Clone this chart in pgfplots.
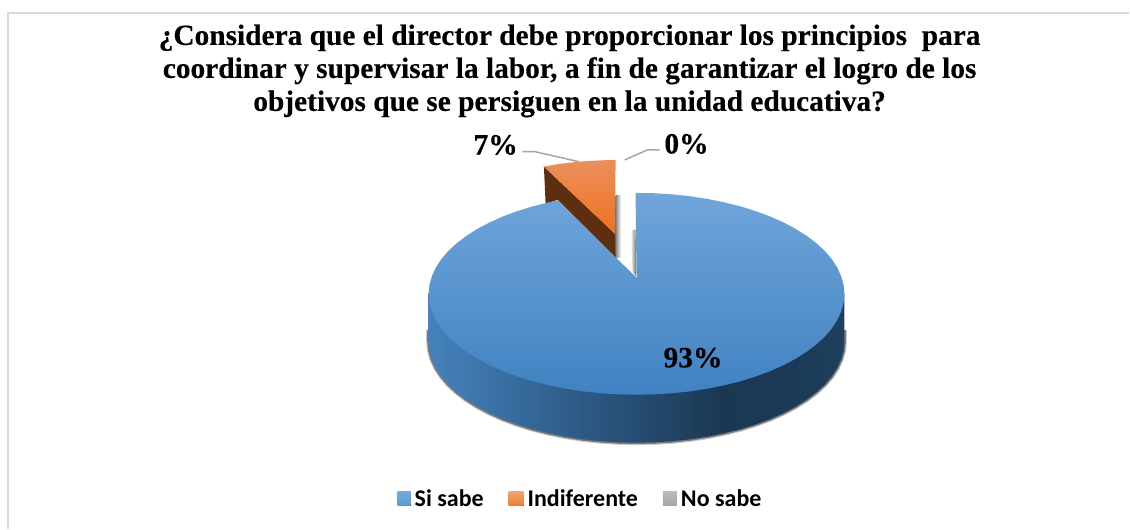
\documentclass[border=0pt]{standalone}
\usepackage{pgfplots}
\pgfplotsset{compat=1.18}
\usepackage{fontspec}
\setmainfont[BoldFeatures={FakeBold=0.25}]{Liberation Serif}
\newfontfamily\legfont{Carlito}
\definecolor{siBlue}{RGB}{91,155,213}
\definecolor{blueTop}{RGB}{112,165,218}
\definecolor{blueBot}{RGB}{64,130,194}
\definecolor{orTop}{RGB}{236,142,92}
\definecolor{orBot}{RGB}{238,114,32}
\definecolor{brownWall}{RGB}{94,46,16}
\definecolor{indOrange}{RGB}{237,125,49}
\definecolor{noGray}{RGB}{165,165,165}
\pgfdeclarehorizontalshading{sideblue}{100bp}{
  rgb(0bp)=(0.27,0.51,0.74);
  rgb(25bp)=(0.27,0.51,0.74);
  rgb(31bp)=(0.24,0.46,0.67);
  rgb(40bp)=(0.19,0.38,0.56);
  rgb(50bp)=(0.15,0.30,0.45);
  rgb(60bp)=(0.105,0.22,0.32);
  rgb(70bp)=(0.11,0.23,0.34);
  rgb(75bp)=(0.12,0.25,0.37);
  rgb(100bp)=(0.12,0.25,0.37)}
\begin{document}
\begin{tikzpicture}
\begin{axis}[
  scale only axis, width=1130pt, height=529pt,
  xmin=0, xmax=1130, ymin=0, ymax=529, y dir=reverse,
  hide axis, clip=false,
  legend columns=3,
  legend cell align=left,
  legend style={at={(axis cs:398,499)}, anchor=west, draw=none, fill=none, inner sep=0pt, outer sep=0pt,
    font=\legfont\bfseries\fontsize{24}{28}\selectfont,
    /tikz/every even column/.append style={column sep=23pt},
    /tikz/every odd column/.append style={column sep=2pt}},
]
% page background and chart frame
\addplot[draw=none, fill=white, forget plot] coordinates {(0,0)(1130,0)(1130,529)(0,529)} -- cycle;
\addplot[draw=black!15, line width=1.6pt, forget plot] coordinates {(8,529)(8,13)(1130,13)};

% soft shadow under the pie
\addplot[draw=black, opacity=.2, line width=5pt, forget plot] coordinates {(845,330)(845,342)(844.2,350.8)(841.8,359.5)(837.9,368.1)(832.5,376.5)(825.5,384.7)(817.1,392.5)(807.4,399.9)(796.3,406.9)(784.1,413.4)(770.7,419.4)(756.3,424.7)(741,429.5)(724.9,433.5)(708.1,436.9)(690.8,439.6)(673.1,441.5)(655.1,442.6)(637,443)(618.9,442.6)(600.9,441.5)(583.2,439.6)(565.9,436.9)(549.1,433.5)(533,429.5)(517.7,424.7)(503.3,419.4)(489.9,413.4)(477.7,406.9)(466.6,399.9)(456.9,392.5)(448.5,384.7)(441.5,376.5)(436.1,368.1)(432.2,359.5)(429.8,350.8)(429,342)(429,330)};
\addplot[draw=black, opacity=.4, line width=3pt, forget plot] coordinates {(845,330)(845,342)(844.2,350.8)(841.8,359.5)(837.9,368.1)(832.5,376.5)(825.5,384.7)(817.1,392.5)(807.4,399.9)(796.3,406.9)(784.1,413.4)(770.7,419.4)(756.3,424.7)(741,429.5)(724.9,433.5)(708.1,436.9)(690.8,439.6)(673.1,441.5)(655.1,442.6)(637,443)(618.9,442.6)(600.9,441.5)(583.2,439.6)(565.9,436.9)(549.1,433.5)(533,429.5)(517.7,424.7)(503.3,419.4)(489.9,413.4)(477.7,406.9)(466.6,399.9)(456.9,392.5)(448.5,384.7)(441.5,376.5)(436.1,368.1)(432.2,359.5)(429.8,350.8)(429,342)(429,330)};

% 93% slice: side wall
\addplot[draw=none, shading=sideblue, forget plot] coordinates {(845,294)(845,342)(844.2,350.8)(841.8,359.5)(837.9,368.1)(832.5,376.5)(825.5,384.7)(817.1,392.5)(807.4,399.9)(796.3,406.9)(784.1,413.4)(770.7,419.4)(756.3,424.7)(741,429.5)(724.9,433.5)(708.1,436.9)(690.8,439.6)(673.1,441.5)(655.1,442.6)(637,443)(618.9,442.6)(600.9,441.5)(583.2,439.6)(565.9,436.9)(549.1,433.5)(533,429.5)(517.7,424.7)(503.3,419.4)(489.9,413.4)(477.7,406.9)(466.6,399.9)(456.9,392.5)(448.5,384.7)(441.5,376.5)(436.1,368.1)(432.2,359.5)(429.8,350.8)(429,342)(429,294)} -- cycle;

% 7% slice: walls, shadow, top face
\addplot[draw=none, left color=black!50, right color=white, forget plot] coordinates {(616,196)(621.5,196)(621.5,258)(616,258)} -- cycle;
\addplot[draw=none, fill=brownWall, forget plot] coordinates {(544.3,166.7)(615.5,234)(616,258)(558,200)(546,204)} -- cycle;
\addplot[draw=none, top color=orTop, bottom color=orBot, forget plot] coordinates {(544.3,166.7)(560,164)(580,161.7)(600,160.5)(616,160)(615.5,234)} -- cycle;

% 93% slice: notch shadow and top face
\addplot[draw=none, left color=white, right color=black!60, forget plot] coordinates {(631,230)(636,230)(637,278)(633,272)} -- cycle;
\addplot[draw=none, top color=blueTop, bottom color=blueBot, forget plot] coordinates {(636,193)(655.1,193.4)(673.1,194.5)(690.8,196.4)(708.1,199.1)(724.9,202.5)(741,206.5)(756.3,211.3)(770.7,216.6)(784.1,222.6)(796.3,229.1)(807.4,236.1)(817.1,243.5)(825.5,251.3)(832.5,259.5)(837.9,267.9)(841.8,276.5)(844.2,285.2)(845,294)(844.2,302.8)(841.8,311.5)(837.9,320.1)(832.5,328.5)(825.5,336.7)(817.1,344.5)(807.4,351.9)(796.3,358.9)(784.1,365.4)(770.7,371.4)(756.3,376.7)(741,381.5)(724.9,385.5)(708.1,388.9)(690.8,391.6)(673.1,393.5)(655.1,394.6)(637,395)(618.9,394.6)(600.9,393.5)(583.2,391.6)(565.9,388.9)(549.1,385.5)(533,381.5)(517.7,376.7)(503.3,371.4)(489.9,365.4)(477.7,358.9)(466.6,351.9)(456.9,344.5)(448.5,336.7)(441.5,328.5)(436.1,320.1)(432.2,311.5)(429.8,302.8)(429,294)(429.8,285.2)(432.2,276.5)(436.1,267.9)(441.5,259.5)(448.5,251.3)(456.9,243.5)(466.6,236.1)(477.7,229.1)(489.9,222.6)(503.3,216.6)(517.7,211.3)(533,206.5)(549.1,202.5)(558,200.5)(637,278)} -- cycle;

% leader lines
\addplot[draw=black!35, line width=1.5pt, forget plot] coordinates {(522.7,151.7)(535,151.7)(579,161.7)};
\addplot[draw=black!35, line width=1.5pt, forget plot] coordinates {(625,160)(648,150)(660,150)};

% legend
\addlegendimage{legend image code/.code={\fill[draw=none,top color=siBlue!85!white,bottom color=siBlue] (0pt,-7pt) rectangle (13pt,7pt);}}
\addlegendentry{Si sabe}
\addlegendimage{legend image code/.code={\fill[draw=none,top color=indOrange!70!white,bottom color=indOrange] (0pt,-7pt) rectangle (15pt,7pt);}}
\addlegendentry{Indiferente}
\addlegendimage{legend image code/.code={\fill[draw=none,top color=noGray!75!white,bottom color=noGray] (0pt,-7pt) rectangle (14pt,7pt);}}
\addlegendentry{No sabe}

% labels
\node[font=\bfseries\fontsize{29.4}{33}\selectfont, align=center, anchor=center] at (axis cs:570,71)
  {¿Considera que el director debe proporcionar los principios\ \ para\\
   coordinar y supervisar la labor, a fin de garantizar el logro de los\\
   objetivos que se persiguen en la unidad educativa?};
\node[font=\bfseries\fontsize{29.5}{33}\selectfont] at (axis cs:496,145) {7\%};
\node[font=\bfseries\fontsize{29.5}{33}\selectfont] at (axis cs:687,144) {0\%};
\node[font=\bfseries\fontsize{29.5}{33}\selectfont] at (axis cs:693.5,358) {93\%};
\end{axis}
\end{tikzpicture}
\end{document}
